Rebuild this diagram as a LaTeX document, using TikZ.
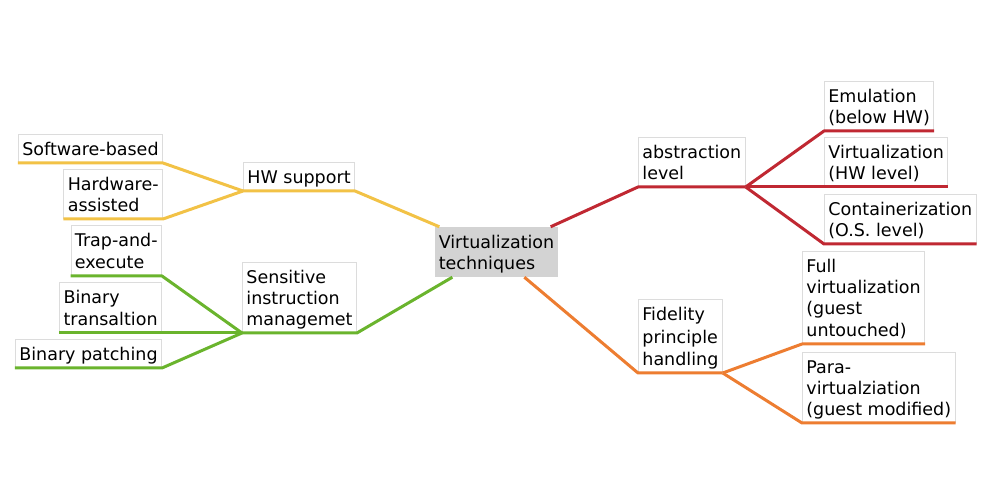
\documentclass[tikz,border=0pt]{standalone}
\usepackage{fontspec}
\setmainfont{DejaVu Sans}
\definecolor{cyel}{HTML}{F2C246}
\definecolor{cred}{HTML}{C02832}
\definecolor{cgrn}{HTML}{6AB42D}
\definecolor{corg}{HTML}{ED7D31}
\definecolor{cbord}{HTML}{DCDCDC}
\definecolor{cfill}{HTML}{D3D3D3}
\newcommand\ms{\rule[-3.5pt]{0pt}{21pt}}
\tikzset{
  topic/.style={draw=cbord, line width=0.8pt, fill=white, inner xsep=4pt, inner ysep=3.75pt,
    align=left, font=\fontsize{17.5}{21}\selectfont},
  root/.style={topic, draw=none, fill=cfill},
  branch/.style={line width=3pt, line join=round, line cap=butt}
}
\begin{document}
\begin{tikzpicture}[x=1pt,y=-1pt]
\useasboundingbox (0,0) rectangle (1007,502);
% central
\node[root] (c) at (496.5,252) {\ms Virtualization\\\ms techniques};
% left: HW support
\node[topic, anchor=south east] (sw) at (163,163) {\ms Software-based};
\node[topic, anchor=south east] (hwa) at (163,219) {\ms Hardware-\\\ms assisted};
\node[topic, anchor=south west] (hw) at (243,191) {\ms HW support};
% left: sensitive
\node[topic, anchor=south east] (te) at (162,276) {\ms Trap-and-\\\ms execute};
\node[topic, anchor=south east] (bt) at (162,333) {\ms Binary\\\ms transaltion};
\node[topic, anchor=south east] (bp) at (162,368) {\ms Binary patching};
\node[topic, anchor=south west] (sim) at (242,333) {\ms Sensitive\\\ms instruction\\\ms managemet};
% right: abstraction
\node[topic, anchor=south west] (al) at (638,187) {\ms abstraction\\\ms level};
\node[topic, anchor=south west] (em) at (824,131) {\ms Emulation\\\ms (below HW)};
\node[topic, anchor=south west] (vi) at (824,187) {\ms Virtualization\\\ms (HW level)};
\node[topic, anchor=south west] (co) at (824,244) {\ms Containerization\\\ms (O.S. level)};
% right: fidelity
\node[topic, anchor=south west] (fp) at (638,373) {\ms Fidelity\\\ms principle\\\ms handling};
\node[topic, anchor=south west] (fv) at (802,344) {\ms Full\\\ms virtualization\\\ms (guest\\\ms untouched)};
\node[topic, anchor=south west] (pv) at (802,423) {\ms Para-\\\ms virtualziation\\\ms (guest modified)};
% attach points on central node
\coordinate (cY) at ([xshift=5pt]c.north west);
\coordinate (cR) at ([xshift=-8pt]c.north east);
\coordinate (cG) at ([xshift=18pt]c.south west);
\coordinate (cO) at ([xshift=90pt]c.south west);
% yellow
\draw[branch, cyel] (sw.south west) -- (sw.south east) -- (hw.south west);
\draw[branch, cyel] (hwa.south west) -- (hwa.south east) -- (hw.south west);
\draw[branch, cyel] (hw.south west) -- (hw.south east) -- (cY);
% green
\draw[branch, cgrn] (te.south west) -- (te.south east) -- (sim.south west);
\draw[branch, cgrn] (bt.south west) -- (bt.south east) -- (sim.south west);
\draw[branch, cgrn] (bp.south west) -- (bp.south east) -- (sim.south west);
\draw[branch, cgrn] (sim.south west) -- (sim.south east) -- (cG);
% red
\draw[branch, cred] (cR) -- (al.south west) -- (al.south east);
\draw[branch, cred] (al.south east) -- (em.south west) -- (em.south east);
\draw[branch, cred] (al.south east) -- (vi.south west) -- (vi.south east);
\draw[branch, cred] (al.south east) -- (co.south west) -- (co.south east);
% orange
\draw[branch, corg] (cO) -- (fp.south west) -- (fp.south east);
\draw[branch, corg] (fp.south east) -- (fv.south west) -- (fv.south east);
\draw[branch, corg] (fp.south east) -- (pv.south west) -- (pv.south east);
\end{tikzpicture}
\end{document}
